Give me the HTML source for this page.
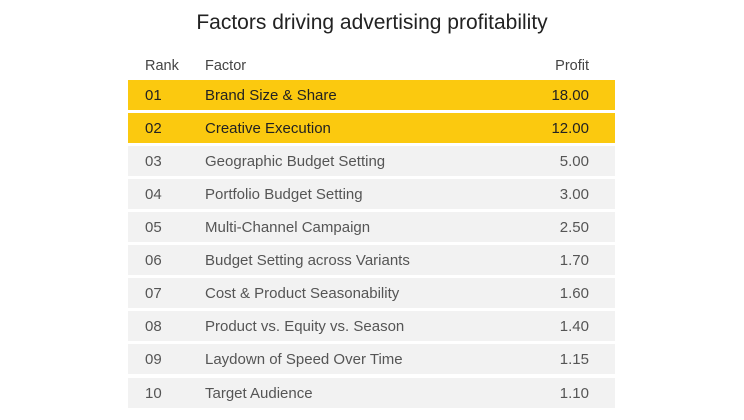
<!DOCTYPE html>
<html><head><style>
body{margin:0;width:744px;height:420px;background:#fff;font-family:"Liberation Sans",sans-serif;position:relative;overflow:hidden}
.t{position:absolute;top:11px;left:0;width:744px;text-align:center;font-size:21px;color:#222}
.h{position:absolute;top:58px;font-size:14.5px;color:#444}
.r{position:absolute;left:128px;width:487px;height:30px;background:#f2f2f2;color:#555;font-size:15px;line-height:31px}
.r.y{background:#fbc90f;color:#222}
.r span{position:absolute}
.a{left:17px}.b{left:77px}.c{right:26px}
</style></head><body>
<div class="t">Factors driving advertising profitability</div>
<div class="h" style="left:145px">Rank</div>
<div class="h" style="left:205px">Factor</div>
<div class="h" style="right:155px">Profit</div>
<div class="r y" style="top:80px"><span class="a">01</span><span class="b">Brand Size &amp; Share</span><span class="c">18.00</span></div>
<div class="r y" style="top:113px"><span class="a">02</span><span class="b">Creative Execution</span><span class="c">12.00</span></div>
<div class="r" style="top:146px"><span class="a">03</span><span class="b">Geographic Budget Setting</span><span class="c">5.00</span></div>
<div class="r" style="top:179px"><span class="a">04</span><span class="b">Portfolio Budget Setting</span><span class="c">3.00</span></div>
<div class="r" style="top:212px"><span class="a">05</span><span class="b">Multi-Channel Campaign</span><span class="c">2.50</span></div>
<div class="r" style="top:245px"><span class="a">06</span><span class="b">Budget Setting across Variants</span><span class="c">1.70</span></div>
<div class="r" style="top:278px"><span class="a">07</span><span class="b">Cost &amp; Product Seasonability</span><span class="c">1.60</span></div>
<div class="r" style="top:311px"><span class="a">08</span><span class="b">Product vs. Equity vs. Season</span><span class="c">1.40</span></div>
<div class="r" style="top:344px"><span class="a">09</span><span class="b">Laydown of Speed Over Time</span><span class="c">1.15</span></div>
<div class="r" style="top:378px"><span class="a">10</span><span class="b">Target Audience</span><span class="c">1.10</span></div>
</body></html>
